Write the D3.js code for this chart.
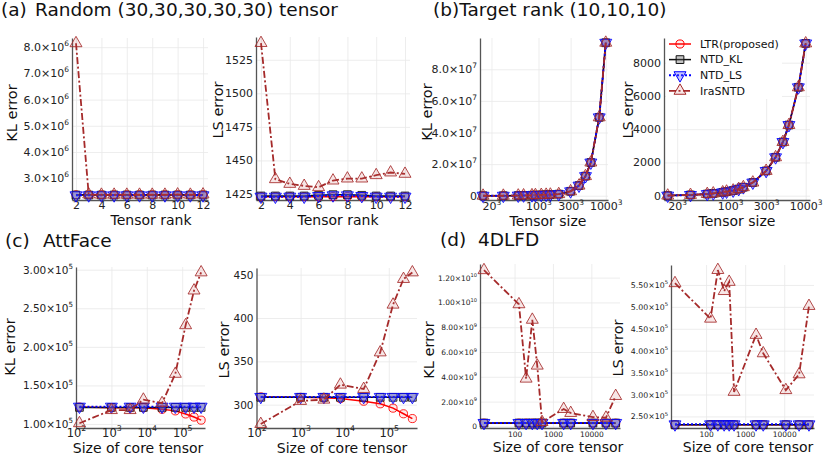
<!DOCTYPE html>
<html lang="en">
<head>
<meta charset="UTF-8">
<title>Tensor decomposition errors</title>
<style>
body { margin: 0; background: #fff; }
svg text { font-family: "DejaVu Sans", sans-serif; }
</style>
</head>
<body>
<script src="https://cdn.jsdelivr.net/npm/d3@7"></script>
<script>
// ---------- data ----------
// (a) random (30,30,30,30,30) tensor
var rank = [2, 3, 4, 5, 6, 7, 8, 9, 10, 11, 12];
var aKL_ltr = [2.37e6, 2.37e6, 2.37e6, 2.37e6, 2.37e6, 2.37e6, 2.37e6, 2.37e6, 2.37e6, 2.37e6, 2.37e6];
var aKL_kl  = [2.36e6, 2.36e6, 2.36e6, 2.36e6, 2.36e6, 2.36e6, 2.36e6, 2.36e6, 2.36e6, 2.36e6, 2.36e6];
var aKL_ls  = [2.35e6, 2.35e6, 2.35e6, 2.35e6, 2.35e6, 2.35e6, 2.35e6, 2.35e6, 2.35e6, 2.35e6, 2.35e6];
var aKL_ira = [8.15e6, 2.38e6, 2.37e6, 2.37e6, 2.37e6, 2.37e6, 2.37e6, 2.37e6, 2.38e6, 2.37e6, 2.38e6];
var aLS_ltr = [1423, 1423, 1423, 1423, 1423, 1423, 1423, 1423, 1423, 1423, 1423];
var aLS_kl  = [1423.5, 1423.5, 1423.5, 1423.5, 1424, 1424.5, 1424.5, 1424, 1423.5, 1423.5, 1423.5];
var aLS_ls  = [1423, 1423, 1423, 1423, 1423.5, 1424, 1424, 1423.5, 1423, 1423, 1423];
var aLS_ira = [1537.5, 1436, 1432.5, 1431, 1430, 1435, 1436.5, 1436.5, 1439, 1441, 1440];

// (b) target rank (10,10,10), tensor side n (size n^3); all methods coincide
var bSize = [15, 30, 50, 60, 80, 90, 110, 130, 150, 200, 300, 400, 500, 600, 800, 1000];
var bKL = [0, 0, 1e5, 2e5, 3e5, 4e5, 5e5, 6e5, 7e5, 1e6, 2.8e6, 6.4e6, 1.24e7, 2.1e7, 4.96e7, 9.68e7];
var bLS = [5, 45, 100, 135, 200, 245, 310, 400, 510, 790, 1490, 2310, 3230, 4250, 6520, 9160];

// (c) AttFace
var cSize = [125, 1000, 3375, 8000, 27000, 64000, 125000, 216000, 343000];
var cKL_ltr = [1.22e5, 1.21e5, 1.21e5, 1.21e5, 1.19e5, 1.17e5, 1.13e5, 1.09e5, 1.05e5];
var cKL_kl  = [1.215e5, 1.215e5, 1.215e5, 1.215e5, 1.215e5, 1.215e5, 1.215e5, 1.215e5, 1.215e5];
var cKL_ls  = [1.225e5, 1.225e5, 1.225e5, 1.225e5, 1.225e5, 1.225e5, 1.225e5, 1.225e5, 1.225e5];
var cKL_ira = [1.01e5, 1.18e5, 1.18e5, 1.315e5, 1.27e5, 1.65e5, 2.28e5, 2.73e5, 2.965e5];
var cLS_ltr = [309, 308.5, 308, 307, 304, 301, 296, 289.5, 284];
var cLS_kl  = [308.5, 308.5, 308.5, 308.5, 308.5, 308.5, 308.5, 308.5, 308.5];
var cLS_ls  = [309, 309, 309, 309, 309, 309, 309, 309, 309];
var cLS_ira = [277.7, 304.3, 305.8, 323.1, 318.1, 360.3, 415.4, 445, 452.6];

// (d) 4DLFD
var dSize = [16, 130, 200, 290, 390, 520, 1900, 2900, 11000, 24000, 43000];
var dKL_ltr = [2.6e8, 2.6e8, 2.6e8, 2.6e8, 2.6e8, 2.6e8, 2.6e8, 2.6e8, 2.6e8, 2.6e8, 2.6e8];
var dKL_kl  = [2.7e8, 2.7e8, 2.7e8, 2.7e8, 2.7e8, 2.7e8, 2.7e8, 2.7e8, 2.7e8, 2.7e8, 2.7e8];
var dKL_ls  = [2.8e8, 2.8e8, 2.8e8, 2.8e8, 2.8e8, 2.8e8, 2.8e8, 2.8e8, 2.8e8, 2.8e8, 2.8e8];
var dKL_ira = [1.26e10, 9.85e9, 3.85e9, 8.6e9, 4.9e9, 3.5e8, 1.4e9, 1.08e9, 7.5e8, 7.0e8, 2.45e9];
var dLS_ltr = [2.31e5, 2.31e5, 2.31e5, 2.31e5, 2.31e5, 2.31e5, 2.31e5, 2.31e5, 2.31e5, 2.31e5, 2.31e5];
var dLS_kl  = [2.31e5, 2.31e5, 2.31e5, 2.31e5, 2.31e5, 2.31e5, 2.31e5, 2.31e5, 2.31e5, 2.31e5, 2.31e5];
var dLS_ls  = [2.32e5, 2.32e5, 2.32e5, 2.32e5, 2.32e5, 2.32e5, 2.32e5, 2.32e5, 2.32e5, 2.32e5, 2.32e5];
var dLS_ira = [5.54e5, 4.73e5, 5.84e5, 5.36e5, 5.57e5, 3.06e5, 4.36e5, 3.94e5, 3.1e5, 3.46e5, 5.02e5];

// tick values
var rankTicks = [2, 4, 6, 8, 10, 12];
var aKLTicks = [3e6, 4e6, 5e6, 6e6, 7e6, 8e6];
var aLSTicks = [1425, 1450, 1475, 1500, 1525];
var bSizeTicks = [20, 100, 300, 1000];
var bKLTicks = [0, 2e7, 4e7, 6e7, 8e7];
var bLSTicks = [0, 2000, 4000, 6000, 8000];
var cSizeTicks = [1e2, 1e3, 1e4, 1e5];
var cKLTicks = [1e5, 1.5e5, 2e5, 2.5e5, 3e5];
var cLSTicks = [300, 350, 400, 450];
var dSizeTicks = [100, 1000, 10000];
var dKLTicks = [0, 2e9, 4e9, 6e9, 8e9, 1e10, 1.2e10];
var dLSTicks = [2.5e5, 3e5, 3.5e5, 4e5, 4.5e5, 5e5, 5.5e5];

var methods = ["LTR(proposed)", "NTD_KL", "NTD_LS", "IraSNTD"];

// ---------- styles ----------
var styles = [
    { color: "#ff0000", dash: null,        width: 1.5, sym: "circle", fill: "rgba(255,0,0,0.08)" },
    { color: "#111111", dash: null,        width: 1.5, sym: "square", fill: "rgba(90,90,90,0.35)" },
    { color: "#0000ff", dash: "2,2",       width: 2,   sym: "down",   fill: "rgba(80,80,255,0.35)" },
    { color: "#a52a2a", dash: "7,2.5,2,2.5", width: 1.8, sym: "up",   fill: "rgba(200,90,90,0.15)" }
];

var svg = d3.select("body").append("svg")
    .attr("width", 823)
    .attr("height", 456);

function symPath(kind) {
    if (kind === "circle") return d3.symbol(d3.symbolCircle, 52)();
    if (kind === "square") return d3.symbol(d3.symbolSquare, 60)();
    return d3.symbol(d3.symbolTriangle, 62)();
}

function rich(sel, fmt, fs) {
    sel.each(function(d) {
        var t = d3.select(this), f = fmt(d);
        t.text(null);
        t.append("tspan").text(f[0]);
        if (f[1]) t.append("tspan").attr("dy", -0.45 * fs).attr("font-size", fs * 0.68).text(f[1]);
    });
}

function sci(exp, dec) {
    return function(v) {
        if (v === 0) return ["0"];
        var e = exp === null ? Math.floor(Math.log10(v) + 1e-9) : exp;
        return [(v / Math.pow(10, e)).toFixed(dec) + "\u00d710", String(e)];
    };
}

function drawPanel(p) {
    var x = (p.xlog ? d3.scaleLog() : d3.scaleLinear()).domain(p.xd).range([p.l, p.r]);
    var y = d3.scaleLinear().domain(p.yd).range([p.b, p.t]);
    var g = svg.append("g");

    // grid
    var gx = g.append("g").attr("transform", "translate(0," + p.t + ")")
        .call(d3.axisBottom(x).tickValues(p.xt).tickSize(p.b - p.t).tickFormat(""));
    var gy = g.append("g").attr("transform", "translate(" + p.l + ",0)")
        .call(d3.axisRight(y).tickValues(p.yt).tickSize(p.r - p.l).tickFormat(""));
    [gx, gy].forEach(function(gg) {
        gg.select(".domain").remove();
        gg.selectAll("line").attr("stroke", "#e9e9e9").attr("stroke-width", 0.8);
    });

    // axes
    var ax = g.append("g").attr("transform", "translate(0," + p.b + ")")
        .call(d3.axisBottom(x).tickValues(p.xt).tickSize(0).tickSizeOuter(0));
    var ay = g.append("g").attr("transform", "translate(" + p.l + ",0)")
        .call(d3.axisLeft(y).tickValues(p.yt).tickSize(0).tickSizeOuter(0).tickPadding(3));
    [ax, ay].forEach(function(gg) {
        gg.attr("font-family", null).attr("color", "#222");
        gg.select(".domain").attr("stroke", "#555").attr("stroke-width", 1.3);
    });
    ax.attr("font-size", p.xfs);
    ay.attr("font-size", p.yfs);
    ax.selectAll("text").attr("y", p.xty).attr("dy", null);
    rich(ax.selectAll("text"), p.xfmt, p.xfs);
    rich(ay.selectAll("text"), p.yfmt, p.yfs);

    // titles
    g.append("text").attr("transform", "translate(" + p.ytx + "," + p.yty + ") rotate(-90)")
        .attr("text-anchor", "middle").attr("dominant-baseline", "central")
        .attr("font-size", 14.5).attr("fill", "#111").text(p.ytitle);
    g.append("text").attr("x", p.xtx).attr("y", p.xtyy)
        .attr("text-anchor", "middle").attr("font-size", 14)
        .attr("fill", "#111").text(p.xtitle);

    // series
    var line = d3.line();
    p.series.forEach(function(vals, k) {
        var st = styles[k];
        var pts = p.xs.map(function(xv, i) { return [x(xv), y(vals[i])]; });
        g.append("path").attr("d", line(pts)).attr("fill", "none")
            .attr("stroke", st.color).attr("stroke-width", st.width)
            .attr("stroke-dasharray", st.dash);
        g.selectAll(null).data(pts).join("path")
            .attr("d", symPath(st.sym))
            .attr("transform", function(d) {
                return "translate(" + d[0] + "," + d[1] + ")" + (st.sym === "down" ? " rotate(180)" : "");
            })
            .attr("fill", st.fill).attr("stroke", st.color)
            .attr("stroke-opacity", 0.85).attr("stroke-width", 1);
    });
}

// ---------- panels ----------
var fRank = function(v) { return [String(v)]; };
var fCube = function(v) { return [String(v), "3"]; };
var fPow = function(v) { return ["10", String(Math.round(Math.log10(v)))]; };
var fPlain = function(v) { return [String(v)]; };

drawPanel({ l: 72, r: 208, t: 38, b: 200, xlog: false, xd: [1.685, 12.39], yd: [2.17e6, 8.35e6],
    xt: rankTicks, yt: aKLTicks, xfmt: fRank, yfmt: sci(6, 1), xfs: 11, yfs: 11, xty: 9,
    ytitle: "KL error", ytx: 12, yty: 113, xtitle: "Tensor rank", xtx: 151, xtyy: 225,
    xs: rank, series: [aKL_ltr, aKL_kl, aKL_ls, aKL_ira] });

drawPanel({ l: 256, r: 410, t: 37, b: 200, xlog: false, xd: [1.653, 12.347], yd: [1420.5, 1542],
    xt: rankTicks, yt: aLSTicks, xfmt: fRank, yfmt: fPlain, xfs: 11, yfs: 11, xty: 9,
    ytitle: "LS error", ytx: 218, yty: 110, xtitle: "Tensor rank", xtx: 338, xtyy: 225,
    xs: rank, series: [aLS_ltr, aLS_kl, aLS_ls, aLS_ira] });

drawPanel({ l: 480, r: 608, t: 38, b: 200, xlog: true, xd: [13.5, 1080], yd: [-2.7e6, 9.98e7],
    xt: bSizeTicks, yt: bKLTicks, xfmt: fCube, yfmt: sci(7, 1), xfs: 11, yfs: 11, xty: 9.5,
    ytitle: "KL error", ytx: 427, yty: 112, xtitle: "Tensor size", xtx: 548, xtyy: 225.5,
    xs: bSize, series: [bKL, bKL, bKL, bKL] });

drawPanel({ l: 664, r: 810, t: 38, b: 200, xlog: true, xd: [13.4, 1140], yd: [-259, 9486],
    xt: bSizeTicks, yt: bLSTicks, xfmt: fCube, yfmt: fPlain, xfs: 11, yfs: 11, xty: 9.5,
    ytitle: "LS error", ytx: 628, yty: 110, xtitle: "Tensor size", xtx: 737, xtyy: 225.5,
    xs: bSize, series: [bLS, bLS, bLS, bLS] });

drawPanel({ l: 76, r: 205, t: 267, b: 428, xlog: true, xd: [100, 441000], yd: [0.948e5, 3.035e5],
    xt: cSizeTicks, yt: cKLTicks, xfmt: fPow, yfmt: sci(5, 2), xfs: 11.5, yfs: 10.5, xty: 8.5,
    ytitle: "KL error", ytx: 10, yty: 347, xtitle: "Size of core tensor", xtx: 138, xtyy: 452.5,
    xs: cSize, series: [cKL_ltr, cKL_kl, cKL_ls, cKL_ira] });

drawPanel({ l: 256.5, r: 417, t: 268, b: 428, xlog: true, xd: [100, 437000], yd: [273.1, 457.7],
    xt: cSizeTicks, yt: cLSTicks, xfmt: fPow, yfmt: fPlain, xfs: 11.5, yfs: 10.5, xty: 8.5,
    ytitle: "LS error", ytx: 224, yty: 350, xtitle: "Size of core tensor", xtx: 342, xtyy: 452.5,
    xs: cSize, series: [cLS_ltr, cLS_kl, cLS_ls, cLS_ira] });

drawPanel({ l: 480, r: 620, t: 264, b: 428, xlog: true, xd: [12.6, 55700], yd: [-1.3e8, 1.31e10],
    xt: dSizeTicks, yt: dKLTicks, xfmt: fPlain, yfmt: sci(null, 2), xfs: 7.5, yfs: 7.5, xty: 8.5,
    ytitle: "KL error", ytx: 429, yty: 350, xtitle: "Size of core tensor", xtx: 558, xtyy: 452,
    xs: dSize, series: [dKL_ltr, dKL_kl, dKL_ls, dKL_ira] });

drawPanel({ l: 671, r: 814, t: 265, b: 428, xlog: true, xd: [12.65, 57800], yd: [2.236e5, 5.955e5],
    xt: dSizeTicks, yt: dLSTicks, xfmt: fPlain, yfmt: sci(5, 2), xfs: 7.5, yfs: 7.8, xty: 8.5,
    ytitle: "LS error", ytx: 618, yty: 348, xtitle: "Size of core tensor", xtx: 748, xtyy: 452,
    xs: dSize, series: [dLS_ltr, dLS_kl, dLS_ls, dLS_ira] });

// ---------- legend (on panel b, right) ----------
var leg = svg.append("g").attr("transform", "translate(666,36)");
leg.append("rect").attr("width", 116).attr("height", 63).attr("fill", "#fff");
methods.forEach(function(m, k) {
    var st = styles[k], yy = 8 + k * 15.6;
    leg.append("line").attr("x1", 3).attr("x2", 25).attr("y1", yy).attr("y2", yy)
        .attr("stroke", st.color).attr("stroke-width", st.width).attr("stroke-dasharray", st.dash);
    leg.append("path").attr("d", symPath(st.sym))
        .attr("transform", "translate(14," + yy + ")" + (st.sym === "down" ? " rotate(180)" : ""))
        .attr("fill", st.fill).attr("stroke", st.color).attr("stroke-width", 1);
    leg.append("text").attr("x", 34).attr("y", yy).attr("dy", "0.35em")
        .attr("font-size", 11).attr("fill", "#111").text(m);
});

// ---------- sub-figure titles ----------
var titles = [
    { x: 1, y: 16, t: "(a)" }, { x: 35, y: 16, t: "Random (30,30,30,30,30) tensor" },
    { x: 433, y: 16, t: "(b)Target rank (10,10,10)" },
    { x: 5, y: 247, t: "(c)" }, { x: 43, y: 247, t: "AttFace" },
    { x: 440, y: 246, t: "(d)" }, { x: 478, y: 246, t: "4DLFD" }
];
svg.selectAll(null).data(titles).join("text")
    .attr("x", function(d) { return d.x; }).attr("y", function(d) { return d.y; })
    .attr("font-size", 18.5).attr("fill", "#111")
    .text(function(d) { return d.t; });
</script>
</body>
</html>
